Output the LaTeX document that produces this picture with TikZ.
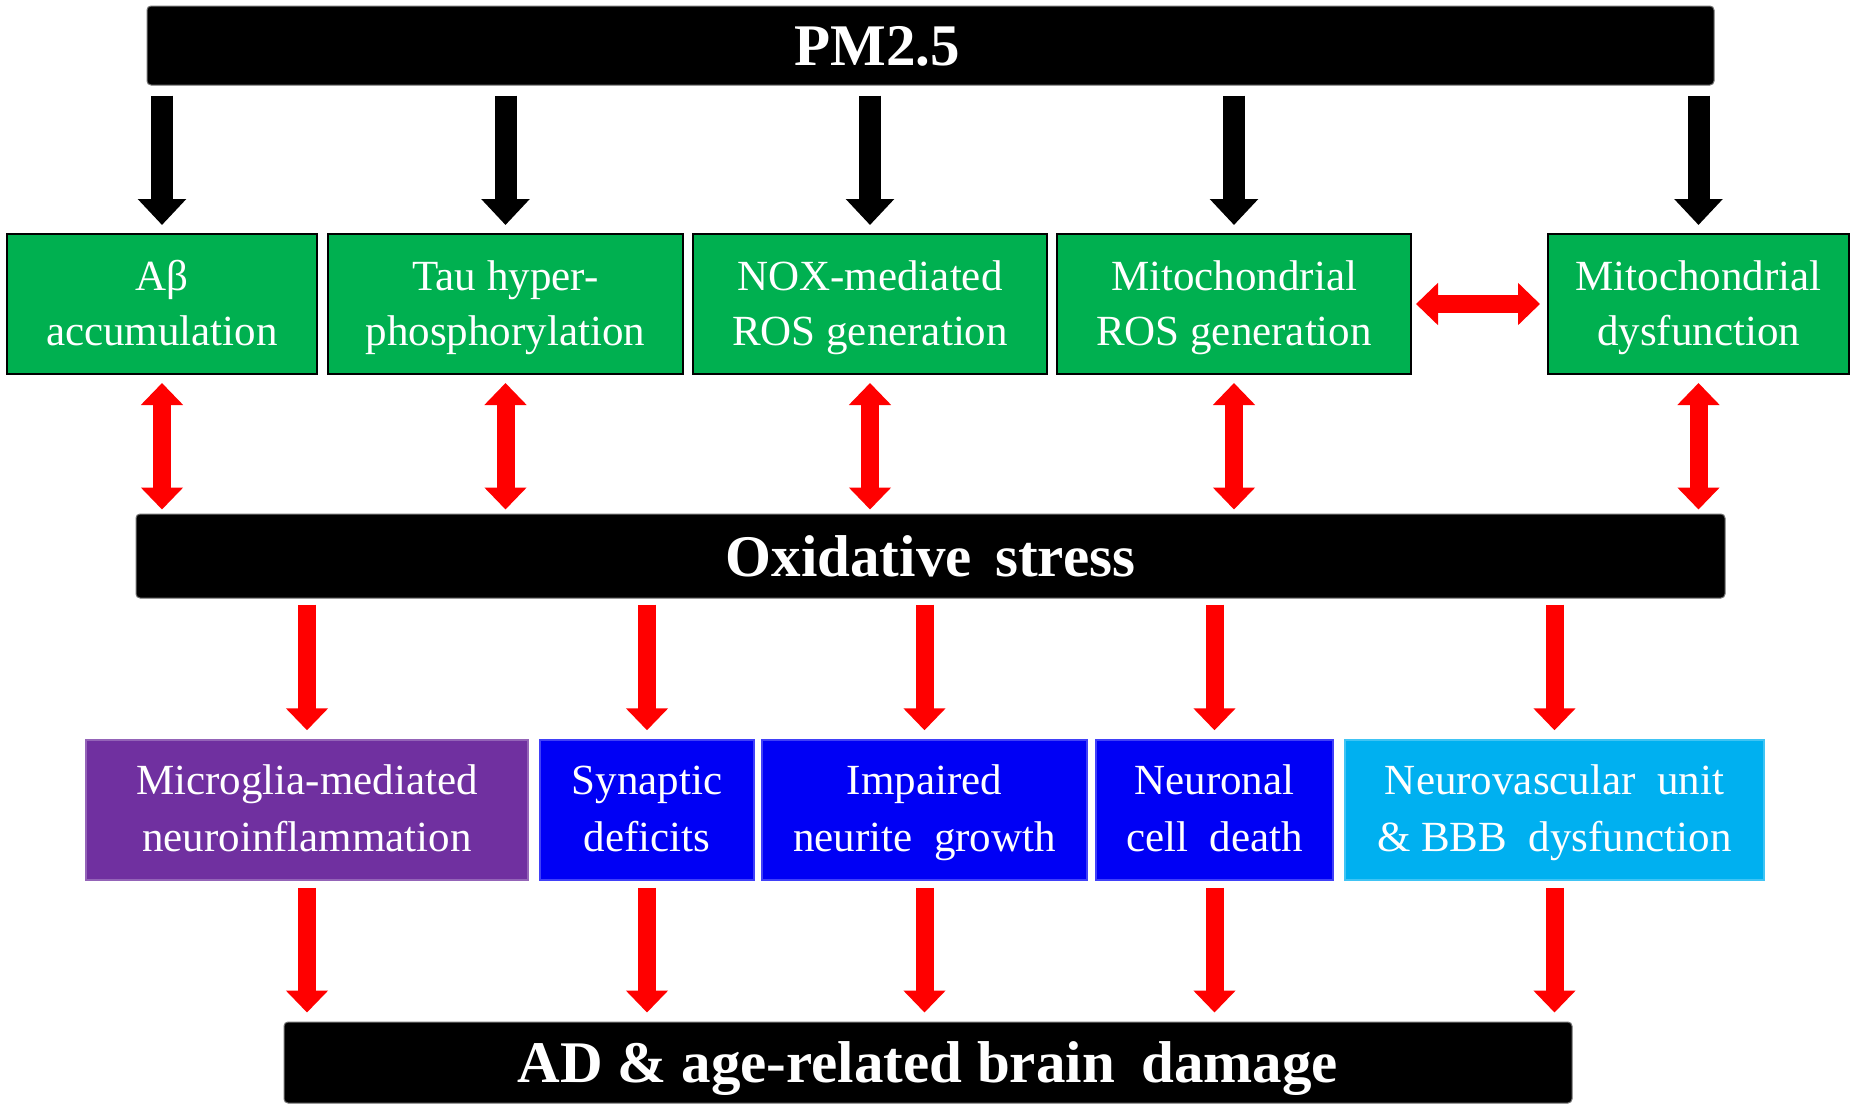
\documentclass[tikz,border=0pt]{standalone}
\usepackage{fontspec}
\setmainfont{Liberation Serif}
\usetikzlibrary{arrows.meta}
\definecolor{pgreen}{HTML}{00B050}
\definecolor{pblue}{HTML}{0000F5}
\definecolor{ppurple}{HTML}{7030A0}
\definecolor{plblue}{HTML}{00B0F0}
\definecolor{pred}{HTML}{FF0000}
\newcommand{\gapsp}{\hspace{0.5em}}
\newcommand{\ustr}{\rule[-11pt]{0pt}{49pt}}
\newcommand{\lstr}{\rule[-11pt]{0pt}{48pt}}
\begin{document}
\begin{tikzpicture}[x=1pt,y=-1pt,
  bar/.style={fill=black, draw=black!55, line width=1pt, rounded corners=4pt, text=white, inner sep=0pt, text height=40pt, text depth=0pt, font=\fontsize{59}{59}\selectfont\bfseries},
  gbox/.style={fill=pgreen, draw=black, line width=2pt, text=white, align=center, inner sep=0pt, minimum height=140pt, font=\fontsize{43}{55}\selectfont},
  lbox/.style={fill=#1, draw=#1!75!white, line width=1.5pt, text=white, align=center, inner sep=0pt, minimum height=140pt, font=\fontsize{43}{57}\selectfont},
  blk/.style={line width=22pt, black, -{Triangle[width=47pt,length=26pt]}},
  rd/.style={line width=18pt, pred, -{Triangle[width=41pt,length=22pt]}},
  rdd/.style={line width=18pt, pred, {Triangle[width=41pt,length=22pt]}-{Triangle[width=41pt,length=22pt]}},
]
\useasboundingbox (0,0) rectangle (1856,1109);
\fill[white] (0,0) rectangle (1856,1109);

% bars
\node[bar, minimum width=1567pt, minimum height=79pt] (pm) at (930.5,45.5) {PM2.5\hspace*{107pt}};
\node[bar, minimum width=1589pt, minimum height=84pt] (ox) at (930.5,556) {Oxidative\hspace{0.4em}stress};
\node[bar, minimum width=1288pt, minimum height=81pt] (ad) at (928,1062.5) {AD \& age-related brain\hspace{0.45em}damage};

% green boxes
\node[gbox, minimum width=310pt] (g1) at (162,304) {\ustr Aβ\\\ustr accumulation};
\node[gbox, minimum width=355pt] (g2) at (505.5,304) {\ustr Tau hyper-\\\ustr phosphorylation};
\node[gbox, minimum width=354pt] (g3) at (870,304) {\ustr NOX-mediated\\\ustr ROS generation};
\node[gbox, minimum width=354pt] (g4) at (1234,304) {\ustr Mitochondrial\\\ustr ROS generation};
\node[gbox, minimum width=301pt] (g5) at (1698.5,304) {\ustr Mitochondrial\\\ustr dysfunction};

% lower boxes
\node[lbox=ppurple, minimum width=442pt] (b1) at (307,810) {\lstr Microglia-mediated\\\lstr neuroinflammation};
\node[lbox=pblue, minimum width=214pt] (b2) at (647,810) {\lstr Synaptic\\\lstr deficits};
\node[lbox=pblue, minimum width=325pt] (b3) at (924.5,810) {\lstr Impaired\\\lstr neurite\gapsp growth};
\node[lbox=pblue, minimum width=237pt] (b4) at (1214.5,810) {\lstr Neuronal\\\lstr cell\gapsp death};
\node[lbox=plblue, minimum width=419pt] (b5) at (1554.5,810) {\lstr Neurovascular\gapsp unit\\\lstr \& BBB\gapsp dysfunction};

% PM2.5 -> green boxes
\foreach \g in {g1,g2,g3,g4,g5}
  \draw[blk, shorten <=10pt, shorten >=8pt] (\g.north |- pm.south) -- (\g.north);

% green boxes <-> oxidative stress
\foreach \g in {g1,g2,g3,g4,g5}
  \draw[rdd, shorten <=8pt, shorten >=4pt] (\g.south) -- (\g.south |- ox.north);

% mitochondrial ROS <-> dysfunction
\draw[rdd, shorten <=4pt, shorten >=7pt] (g4.east) -- (g5.west);

% oxidative stress -> lower boxes
\foreach \b in {b1,b2,b3,b4,b5}
  \draw[rd, shorten <=6pt, shorten >=9pt] (\b.north |- ox.south) -- (\b.north);

% lower boxes -> AD
\foreach \b in {b1,b2,b3,b4,b5}
  \draw[rd, shorten <=7pt, shorten >=9pt] (\b.south) -- (\b.south |- ad.north);
\end{tikzpicture}
\end{document}
